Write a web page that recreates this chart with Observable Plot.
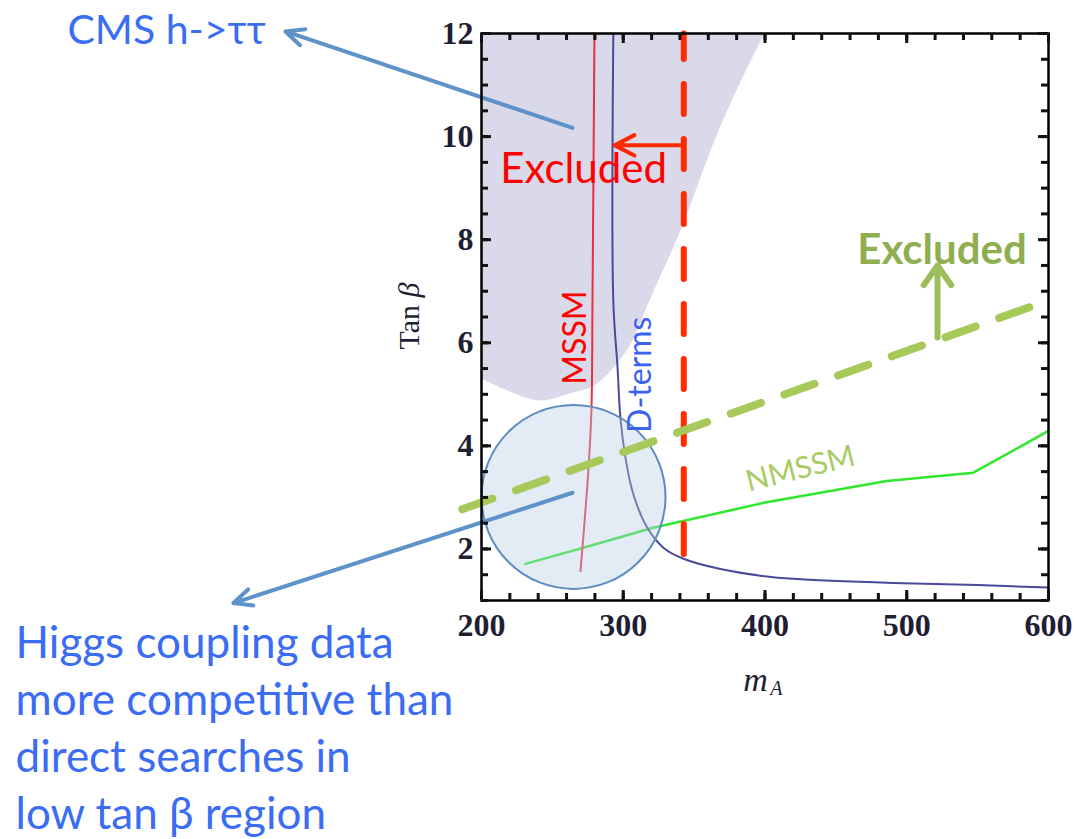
<!DOCTYPE html>
<html><head><meta charset="utf-8">
<script src="https://cdn.jsdelivr.net/npm/d3@7"></script>
<script src="https://cdn.jsdelivr.net/npm/@observablehq/plot@0.6"></script>
<style>body{margin:0;background:#fff;} svg{overflow:visible}</style>
</head><body><div id="chart"></div>
<script>
// CMS h->tautau excluded region (lower boundary, up to tanβ = 12)
const cmsMA   = [200, 218, 242, 263, 282, 293, 307, 319, 340, 366, 400];
const cmsTanB = [5.30, 5.07, 4.87, 5.01, 5.20, 5.49, 6.04, 6.82, 8.12, 10.0, 12.0];
// MSSM curve
const mssmMA   = [269.8, 272, 275.5, 277.6, 278.3, 279.7];
const mssmTanB = [1.57, 2.29, 3.57, 4.74, 6.82, 12];
// D-terms curve
const dtMA   = [293, 293, 296, 298, 301.6, 307, 317, 328.5, 342.5, 368.6, 400, 420, 490, 550, 600];
const dtTanB = [12, 6.8, 5.51, 4.54, 3.77, 3.07, 2.41, 2.02, 1.81, 1.61, 1.47, 1.42, 1.34, 1.30, 1.25];
// NMSSM curve
const nmMA   = [231, 270, 321, 400, 486, 547, 600];
const nmTanB = [1.71, 2.01, 2.41, 2.90, 3.32, 3.48, 4.29];
// Direct-search limits
const redLimitMA = [342.7, 342.7];
const redLimitTanB = [1.9, 12];
const greenLimitMA = [186.4, 600];
const greenLimitTanB = [2.77, 6.82];
// Ticks
const xMajor = [200, 300, 400, 500, 600];
const xMinor = d3.range(200, 601, 20);
const yMajor = [2, 4, 6, 8, 10, 12];
const yMinor = d3.range(1, 12.01, 0.5);

const zip = (xs, ys) => xs.map((x, i) => ({x, y: ys[i]}));
const sans = "Lato, 'Open Sans', sans-serif";
const serif = "'Liberation Serif', 'DejaVu Serif', serif";

const W = 1078, H = 839, mL = 481, mR = 30, mT = 33, mB = 239;
const [x0, x1] = [200, 600], [y0, y1] = [1, 12];
const pxPerX = (W - mL - mR) / (x1 - x0);   // pixels per unit of m_A
const pxPerY = (H - mT - mB) / (y1 - y0);   // pixels per unit of tanβ
const tickStyle = {stroke: "#111", strokeWidth: 3};
const xTicks = (ticks, len) => [
  Plot.ruleX(ticks, {x: (d) => d, y1: y0, y2: y0 + len / pxPerY, ...tickStyle}),
  Plot.ruleX(ticks, {x: (d) => d, y1: y1 - len / pxPerY, y2: y1, ...tickStyle})
];
const yTicks = (ticks, len) => [
  Plot.ruleY(ticks, {y: (d) => d, x1: x0, x2: x0 + len / pxPerX, ...tickStyle}),
  Plot.ruleY(ticks, {y: (d) => d, x1: x1 - len / pxPerX, x2: x1, ...tickStyle})
];

const chart = Plot.plot({
  width: W, height: H,
  marginLeft: mL, marginRight: mR, marginTop: mT, marginBottom: mB,
  x: {domain: [x0, x1]},
  y: {domain: [y0, y1]},
  style: {background: "white", overflow: "visible"},
  marks: [
    Plot.areaY(zip(cmsMA, cmsTanB), {x: "x", y1: "y", y2: y1, fill: "#d9d9ea", curve: "monotone-x"}),
    Plot.line(zip(nmMA, nmTanB), {x: "x", y: "y", stroke: "#2ee82e", strokeWidth: 2.5}),
    Plot.line(zip(mssmMA, mssmTanB), {x: "x", y: "y", stroke: "#e8303f", strokeWidth: 2, curve: "catmull-rom"}),
    Plot.line(zip(dtMA, dtTanB), {x: "x", y: "y", stroke: "#4a4a9c", strokeWidth: 2, curve: "catmull-rom"}),
    Plot.dot([{x: 264.9, y: 3.01}], {x: "x", y: "y", r: 92, fill: "#b8cce4", fillOpacity: 0.4, stroke: "#5b8cc4", strokeWidth: 2}),
    Plot.line(zip(redLimitMA, redLimitTanB), {x: "x", y: "y", stroke: "#ff2a00", strokeWidth: 6, strokeDasharray: "30,25"}),
    Plot.line(zip(greenLimitMA, greenLimitTanB), {x: "x", y: "y", stroke: "#a6c95a", strokeWidth: 8, strokeDasharray: "32,25"}),
    Plot.arrow([{x1: 342.7, y1: 9.83, x2: 294, y2: 9.83}], {x1: "x1", y1: "y1", x2: "x2", y2: "y2", stroke: "#ff2a00", strokeWidth: 4, headLength: 8.3, headAngle: 55}),
    Plot.arrow([{x1: 521.7, y1: 6.10, x2: 521.7, y2: 7.50}], {x1: "x1", y1: "y1", x2: "x2", y2: "y2", stroke: "#9dbd5d", strokeWidth: 6, headLength: 7, headAngle: 70}),
    Plot.arrow([{x1: 264.2, y1: 10.17, x2: 61.7, y2: 12.04}], {x1: "x1", y1: "y1", x2: "x2", y2: "y2", stroke: "#5e93c9", strokeWidth: 4, headLength: 7.5, headAngle: 50}),
    Plot.arrow([{x1: 264.2, y1: 3.09, x2: 25.0, y2: 0.95}], {x1: "x1", y1: "y1", x2: "x2", y2: "y2", stroke: "#5e93c9", strokeWidth: 4, headLength: 7.5, headAngle: 50}),
    // frame and inward ticks on all four sides
    Plot.frame({stroke: "black", strokeWidth: 2.5}),
    ...xTicks(xMinor, 7), ...xTicks(xMajor, 10),
    ...yTicks(yMinor, 7), ...yTicks(yMajor, 10),
    Plot.axisX({anchor: "bottom", ticks: xMajor, tickSize: 0, tickPadding: 13, label: null, fontSize: 32, fontWeight: "bold", fontFamily: serif, fill: "#1f1f33"}),
    Plot.axisY({anchor: "left", ticks: yMajor, tickSize: 0, tickPadding: 8, label: null, fontSize: 32, fontWeight: "bold", fontFamily: serif, fill: "#1f1f33"}),
    // axis titles
    Plot.text([{x: 149.2, y: 6.52}], {x: "x", y: "y", text: () => "Tan β", rotate: -90, fontSize: 30, fontFamily: serif, fill: "#1f1f33"}),
    Plot.text([{x: 393.3, y: -0.54}], {x: "x", y: "y", text: () => "m", fontSize: 34, fontStyle: "italic", fontFamily: serif, fill: "#1f1f33"}),
    Plot.text([{x: 408.1, y: -0.70}], {x: "x", y: "y", text: () => "A", fontSize: 20, fontStyle: "italic", fontFamily: serif, fill: "#1f1f33"}),
    // annotations
    Plot.text([{x: 272, y: 9.36}], {x: "x", y: "y", text: () => "Excluded", fontSize: 42, fontFamily: sans, fill: "#ff0000"}),
    Plot.text([{x: 524.9, y: 7.79}], {x: "x", y: "y", text: () => "Excluded", fontSize: 42, fontWeight: "bold", fontFamily: sans, fill: "#8fae4f"}),
    Plot.text([{x: 425, y: 3.55}], {x: "x", y: "y", text: () => "NMSSM", rotate: -14, fontSize: 30, fontFamily: sans, fill: "#a9cc62"}),
    Plot.text([{x: 266.3, y: 6.10}], {x: "x", y: "y", text: () => "MSSM", rotate: -90, fontSize: 32, fontFamily: sans, fill: "#ff0000"}),
    Plot.text([{x: 312.2, y: 5.38}], {x: "x", y: "y", text: () => "D-terms", rotate: -90, fontSize: 32, fontFamily: sans, fill: "#3b63f0"}),
    Plot.text([{x: -92.1, y: 12.06}], {x: "x", y: "y", text: () => "CMS h->ττ", textAnchor: "start", fontSize: 41, fontFamily: sans, fill: "#3b6cf4"}),
    Plot.text([{x: -128.7, y: 0.670}], {x: "x", y: "y", text: () => "Higgs coupling data\nmore competitive than\ndirect searches in\nlow tan β region", textAnchor: "start", lineAnchor: "top", lineHeight: 1.295, fontSize: 44, fontFamily: sans, fill: "#3b6cf4"})
  ]
});
// italic β in the y-axis title
d3.select(chart).selectAll("text").filter(function() { return this.textContent === "Tan β"; })
  .each(function() {
    const t = d3.select(this);
    t.text("");
    t.append("tspan").text("Tan ");
    t.append("tspan").attr("font-style", "italic").text("β");
  });
document.getElementById("chart").appendChild(chart);
</script>
</body></html>
